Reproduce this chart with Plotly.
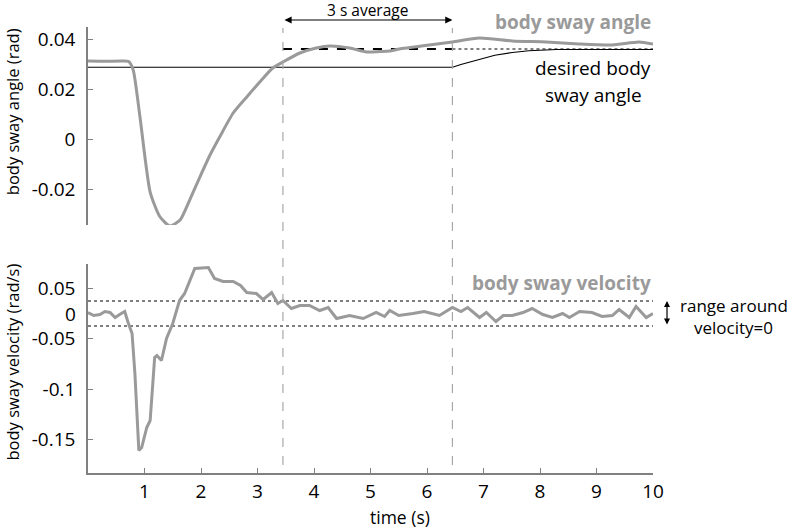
import plotly.graph_objects as go

# ---------------- data ----------------
# body sway angle (rad)
t_angle = [0.0, 0.3, 0.6, 0.72, 0.80, 0.92, 1.10, 1.27, 1.45, 1.63, 1.80, 1.98, 2.16, 2.33,
           2.57, 2.81, 3.04, 3.27, 3.45, 3.75, 4.04, 4.28, 4.63, 4.93, 5.16, 5.34, 5.51,
           6.04, 6.45, 6.93, 7.51, 8.11, 8.69, 9.28, 9.75, 10.0]
angle = [0.0312, 0.0311, 0.0312, 0.0310, 0.0276, 0.0088, -0.0212, -0.0310, -0.0348, -0.0324,
         -0.0244, -0.0152, -0.0064, 0.0008, 0.0104, 0.0168, 0.0228, 0.0284, 0.0308, 0.0344,
         0.0364, 0.0372, 0.0364, 0.0348, 0.0350, 0.0352, 0.0360, 0.0376, 0.0388, 0.0404,
         0.0392, 0.0388, 0.0380, 0.0376, 0.0388, 0.0380]

# desired body sway angle (rad)
t_desired = [0.0, 6.45, 6.6, 6.93, 7.2, 7.51, 7.8, 8.3, 10.0]
desired = [0.0287, 0.0287, 0.0298, 0.0320, 0.0335, 0.0346, 0.0353, 0.0358, 0.0358]

# 3 s average window
avg_start, avg_end = 3.45, 6.45
avg_value = 0.0360

# body sway velocity (display scale, rad/s)
t_vel = [0.0, 0.1, 0.21, 0.3, 0.39, 0.48, 0.56, 0.65, 0.71, 0.78, 0.83, 0.90, 0.95, 1.04,
         1.10, 1.18, 1.22, 1.30, 1.39, 1.50, 1.62, 1.71, 1.89, 2.04, 2.13, 2.24, 2.39,
         2.57, 2.70, 2.81, 2.98, 3.10, 3.25, 3.36, 3.45, 3.60, 3.75, 3.92, 4.10, 4.25,
         4.40, 4.63, 4.87, 5.10, 5.25, 5.34, 5.50, 5.75, 5.95, 6.22, 6.45, 6.60, 6.72,
         6.93, 7.05, 7.22, 7.35, 7.51, 7.70, 7.86, 8.05, 8.22, 8.40, 8.52, 8.70, 8.92,
         9.10, 9.28, 9.40, 9.58, 9.70, 9.88, 10.0]
vel = [0.001, -0.002, -0.001, 0.002, 0.001, -0.004, -0.001, 0.002, -0.009, -0.020, -0.060,
       -0.137, -0.134, -0.114, -0.107, -0.044, -0.042, -0.047, -0.025, -0.010, 0.013, 0.020,
       0.045, 0.046, 0.046, 0.035, 0.032, 0.032, 0.028, 0.021, 0.020, 0.014, 0.021, 0.010,
       0.013, 0.005, 0.008, 0.008, 0.003, 0.006, -0.005, -0.002, -0.005, 0.001, -0.003,
       0.003, -0.002, 0.000, 0.002, -0.002, 0.006, 0.002, 0.006, -0.004, 0.001, -0.008,
       -0.002, -0.002, 0.001, 0.005, -0.001, -0.004, 0.000, -0.004, 0.002, 0.001, -0.003,
       -0.002, 0.004, -0.004, 0.007, -0.004, 0.000]
vel_band = 0.0125

x_ticks = [1, 2, 3, 4, 5, 6, 7, 8, 9, 10]
angle_tickvals = [0.04, 0.02, 0.0, -0.02]
angle_ticktext = ["0.04", "0.02", "0", "-0.02"]
vel_tickvals = [0.0255, -0.0245, -0.0755, -0.1255]
vel_ticktext = ["0.05", "-0.05", "-0.1", "-0.15"]

# ---------------- figure ----------------
GRAY = "#9a9a9a"
AX = "#808080"
FONT = "Open Sans"
TICK = 19

fig = go.Figure()

fig.add_trace(go.Scatter(x=t_desired, y=desired, mode="lines", xaxis="x", yaxis="y2",
                         line=dict(color="black", width=1.2), showlegend=False))
fig.add_trace(go.Scatter(x=[avg_start, avg_end], y=[avg_value, avg_value], mode="lines",
                         xaxis="x", yaxis="y2",
                         line=dict(color="black", width=1.8, dash="dash"), showlegend=False))
fig.add_trace(go.Scatter(x=[avg_end, 10], y=[avg_value, avg_value], mode="lines",
                         xaxis="x", yaxis="y2",
                         line=dict(color="black", width=1, dash="dot"), showlegend=False))
fig.add_trace(go.Scatter(x=t_angle, y=angle, mode="lines", xaxis="x", yaxis="y2",
                         line=dict(color=GRAY, width=3, shape="spline", smoothing=0.6),
                         showlegend=False))

for b in (vel_band, -vel_band):
    fig.add_trace(go.Scatter(x=[0, 10], y=[b, b], mode="lines", xaxis="x", yaxis="y",
                             line=dict(color="black", width=1, dash="dot"), showlegend=False))
fig.add_trace(go.Scatter(x=t_vel, y=vel, mode="lines", xaxis="x", yaxis="y",
                         line=dict(color=GRAY, width=3), showlegend=False))

# vertical dashed window lines spanning both panels
for xv in (avg_start, avg_end):
    fig.add_shape(type="line", xref="x", yref="paper", x0=xv, x1=xv, y0=0.018, y1=0.998,
                  line=dict(color="#a8a8a8", width=1.2, dash="dash"))

ann = []
# 3 s average arrow
ann.append(dict(x=avg_end, y=1.0157, ax=avg_start, ay=0, xref="x", yref="paper",
                axref="x", ayref="pixel", text="", showarrow=True, arrowside="end+start",
                arrowhead=2, arrowsize=1.2, arrowwidth=1.2, arrowcolor="black",
                standoff=0, startstandoff=0))
ann.append(dict(x=(avg_start + avg_end) / 2, y=1.037, xref="x", yref="paper",
                xanchor="center", yanchor="middle", text="3 s average", showarrow=False,
                font=dict(size=15.5, color="black")))
ann.append(dict(x=1.0, y=1.0113, xref="paper", yref="paper", xanchor="right",
                yanchor="middle", text="<b>body sway angle</b>", showarrow=False,
                font=dict(size=19, color=GRAY)))
ann.append(dict(x=8.94, y=0.0284, xref="x", yref="y2", text="desired body",
                showarrow=False, font=dict(size=19, color="black")))
ann.append(dict(x=8.94, y=0.0176, xref="x", yref="y2", text="sway angle",
                showarrow=False, font=dict(size=19, color="black")))
ann.append(dict(x=1.0, y=0.031, xref="paper", yref="y", xanchor="right",
                text="<b>body sway velocity</b>", showarrow=False,
                font=dict(size=19, color=GRAY)))
# range arrow
ann.append(dict(x=1.0248, y=vel_band, ax=0, ay=-vel_band, xref="paper", yref="y",
                axref="pixel", ayref="y", text="", showarrow=True, arrowside="end+start",
                arrowhead=2, arrowsize=1, arrowwidth=1.2, arrowcolor="black",
                standoff=0, startstandoff=0))
ann.append(dict(x=1.143, y=0.008, xref="paper", yref="y", xanchor="center",
                text="range around", showarrow=False, font=dict(size=17, color="black")))
ann.append(dict(x=1.143, y=-0.014, xref="paper", yref="y", xanchor="center",
                text="velocity=0", showarrow=False, font=dict(size=17, color="black")))
# "0" label on velocity axis (no tick mark)
ann.append(dict(x=-0.0177, y=0.0, xref="paper", yref="y", xanchor="right",
                yanchor="middle", text="0", showarrow=False,
                font=dict(size=TICK, color="black")))
# axis titles
ann.append(dict(x=-0.1345, y=0.809, xref="paper", yref="paper", xanchor="center",
                yanchor="middle", textangle=-90, text="body sway angle (rad)",
                showarrow=False, font=dict(size=16.5, color="black")))
ann.append(dict(x=-0.1335, y=0.249, xref="paper", yref="paper", xanchor="center",
                yanchor="middle", textangle=-90, text="body sway velocity (rad/s)",
                showarrow=False, font=dict(size=16.5, color="black")))
ann.append(dict(x=0.552, y=-0.0985, xref="paper", yref="paper", xanchor="center",
                yanchor="middle", text="time (s)", showarrow=False,
                font=dict(size=17.5, color="black")))

fig.update_layout(
    width=787, height=528,
    margin=dict(l=88, r=134, t=27, b=55, autoexpand=False),
    paper_bgcolor="white", plot_bgcolor="white",
    font=dict(family=FONT, size=17, color="black"),
    showlegend=False,
    annotations=ann,
    xaxis=dict(domain=[0, 1], range=[0, 10], anchor="y", tickvals=x_ticks,
               ticks="inside", ticklen=5, tickcolor=AX, showline=True, linecolor=AX,
               linewidth=1.5, showgrid=False, zeroline=False, ticklabelstandoff=0,
               tickfont=dict(size=TICK, color="black")),
    yaxis=dict(domain=[0, 0.4686], range=[-0.1595, 0.0495], anchor="x",
               tickvals=vel_tickvals, ticktext=vel_ticktext, ticks="inside", ticklen=5,
               tickcolor=AX, showline=True, linecolor=AX, linewidth=1.5, showgrid=False,
               zeroline=False, ticklabelstandoff=7, tickfont=dict(size=TICK, color="black")),
    yaxis2=dict(domain=[0.556, 1], range=[-0.0344, 0.0448], anchor="x",
                tickvals=angle_tickvals, ticktext=angle_ticktext, ticks="inside", ticklen=5,
                tickcolor=AX, showline=True, linecolor=AX, linewidth=1.5, showgrid=False,
                zeroline=False, ticklabelstandoff=7, tickfont=dict(size=TICK, color="black")),
)

fig.write_html("out.html", config={"displayModeBar": False},
               post_script="document.body.style.margin='0px';"
                           "document.body.style.overflow='hidden';")
